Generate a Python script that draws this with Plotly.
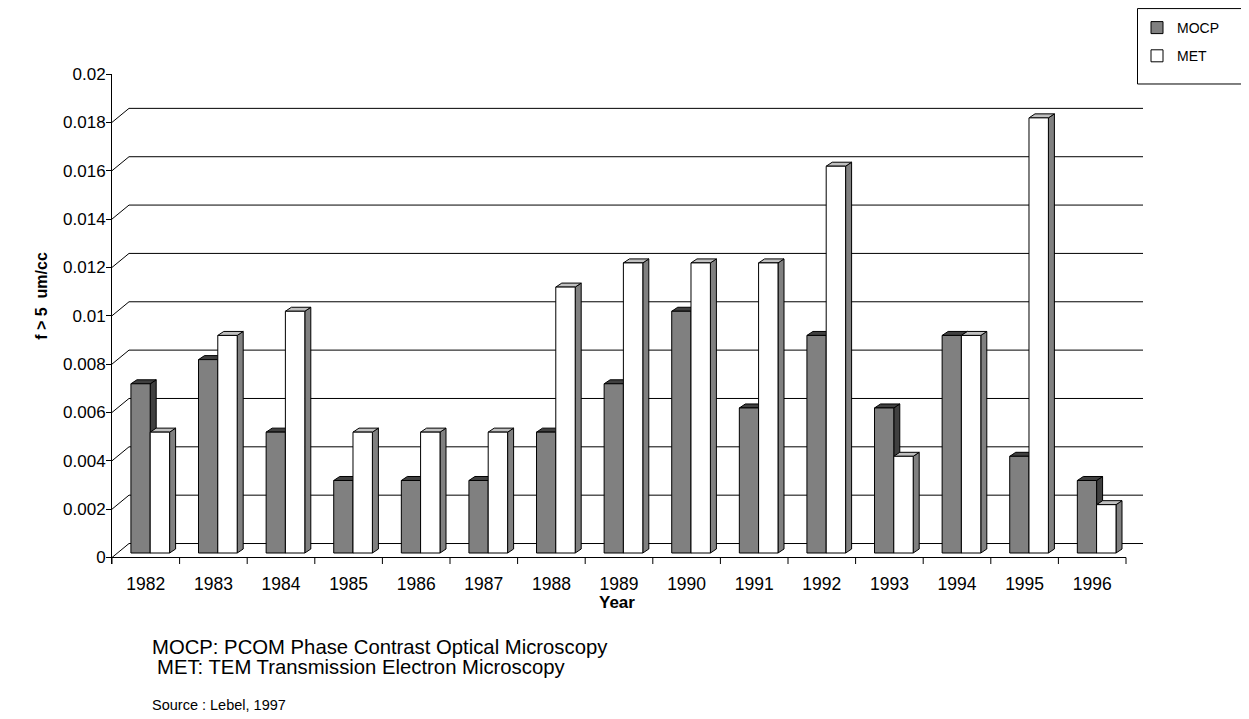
import plotly.graph_objects as go

# ---------------- data ----------------
years = ["1982", "1983", "1984", "1985", "1986", "1987", "1988", "1989",
         "1990", "1991", "1992", "1993", "1994", "1995", "1996"]
mocp = [0.007, 0.008, 0.005, 0.003, 0.003, 0.003, 0.005, 0.007,
        0.010, 0.006, 0.009, 0.006, 0.009, 0.004, 0.003]
met = [0.005, 0.009, 0.010, 0.005, 0.005, 0.005, 0.011, 0.012,
       0.012, 0.012, 0.016, 0.004, 0.009, 0.018, 0.002]
y_ticks = [0, 0.002, 0.004, 0.006, 0.008, 0.010, 0.012, 0.014, 0.016, 0.018, 0.020]
y_tick_labels = ["0", "0.002", "0.004", "0.006", "0.008", "0.01",
                 "0.012", "0.014", "0.016", "0.018", "0.02"]
series_names = ["MOCP", "MET"]

# ---------------- layout geometry (page pixels) ----------------
PAGE_W, PAGE_H = 1249, 719
OFF = 8                       # default body margin of the html page
W, H = PAGE_W - OFF, PAGE_H - OFF

REF_L = 112                   # front y axis
REF_Y0 = 558                  # value 0 on the front plane
TICK_DOWN = 6.5               # category ticks below the floor
CAT_PX = 67.6                 # width of one category
SCALE = 24200.0               # pixels per data unit
WALL_DX_PX, WALL_DY_PX = 17, 14
BAR_DX_PX, BAR_DY_PX = 6, 4
BAR_LIFT_PX = 4.5

n = len(years)
XMAX = n + WALL_DX_PX / CAT_PX
Y_TOP = 0.020
Y_MIN = -TICK_DOWN / SCALE

PX_L = REF_L - OFF
PX_R = PX_L + XMAX * CAT_PX
PX_T = REF_Y0 - Y_TOP * SCALE - OFF
PX_B = REF_Y0 + TICK_DOWN - OFF

GDX = WALL_DX_PX / CAT_PX
GDY = WALL_DY_PX / SCALE
BDX = BAR_DX_PX / CAT_PX
BDY = BAR_DY_PX / SCALE
BY = BAR_LIFT_PX / SCALE
MOCP_X0, MOCP_X1 = 0.28, 0.565
MET_X0, MET_X1 = 0.565, 0.852


def paper_x(page_px):
    return (page_px - OFF - PX_L) / (PX_R - PX_L)


def paper_y(page_py):
    return (PX_B - (page_py - OFF)) / (PX_B - PX_T)


FONT = "Liberation Sans, Arial, sans-serif"

fig = go.Figure()

# back-wall gridlines with their diagonal links to the front axis
gx, gy = [], []
for v in y_ticks[:-1]:
    gx += [0, GDX, n + GDX, None]
    gy += [v, v + GDY, v + GDY, None]
fig.add_trace(go.Scatter(x=gx, y=gy, mode="lines", line=dict(color="black", width=1),
                         hoverinfo="skip", showlegend=False))

# front x-axis line and category boundary ticks
ax_x = [0, n, None]
ax_y = [0, 0, None]
for k in range(n + 1):
    ax_x += [k, k, None]
    ax_y += [0, Y_MIN, None]
fig.add_trace(go.Scatter(x=ax_x, y=ax_y, mode="lines", line=dict(color="black", width=1),
                         hoverinfo="skip", showlegend=False))


def faces(values, x0, x1):
    fx, fy, tx, ty, sx, sy = [], [], [], [], [], []
    for i, v in enumerate(values):
        a, b = i + x0, i + x1
        yb, yt = BY, BY + v
        fx += [a, b, b, a, a, None]
        fy += [yb, yb, yt, yt, yb, None]
        tx += [a, b, b + BDX, a + BDX, a, None]
        ty += [yt, yt, yt + BDY, yt + BDY, yt, None]
        sx += [b, b + BDX, b + BDX, b, b, None]
        sy += [yb, yb + BDY, yt + BDY, yt, yb, None]
    return (fx, fy), (tx, ty), (sx, sy)


def add_bars(values, x0, x1, front_c, top_c, side_c, name):
    front, top, side = faces(values, x0, x1)
    for (xs, ys), col in ((side, side_c), (top, top_c), (front, front_c)):
        fig.add_trace(go.Scatter(x=xs, y=ys, mode="lines", fill="toself", fillcolor=col,
                                 line=dict(color="black", width=1), name=name,
                                 hoverinfo="skip", showlegend=False))


add_bars(mocp, MOCP_X0, MOCP_X1, "#808080", "#404040", "#404040", series_names[0])
add_bars(met, MET_X0, MET_X1, "#ffffff", "#c0c0c0", "#808080", series_names[1])

# legend entries
fig.add_trace(go.Bar(x=[None], y=[None], name=series_names[0], legendgroup="a",
                     marker=dict(color="#808080", line=dict(color="black", width=1))))
fig.add_trace(go.Bar(x=[None], y=[None], name=series_names[1], legendgroup="b",
                     marker=dict(color="#ffffff", line=dict(color="black", width=1))))

annotations = [
    dict(text="<b>f > 5 \u00a0um/cc</b>", x=paper_x(42), y=paper_y(296), textangle=-90,
         font=dict(size=16, family=FONT, color="black")),
    dict(text="<b>Year</b>", x=paper_x(617), y=paper_y(603),
         font=dict(size=17, family=FONT, color="black")),
    dict(text="MOCP: PCOM Phase Contrast Optical Microscopy", x=paper_x(150), y=paper_y(648),
         xanchor="left", font=dict(size=20.3, family=FONT, color="black")),
    dict(text="MET: TEM Transmission Electron Microscopy", x=paper_x(155), y=paper_y(668),
         xanchor="left", font=dict(size=20.3, family=FONT, color="black")),
    dict(text="Source : Lebel, 1997", x=paper_x(150), y=paper_y(706),
         xanchor="left", font=dict(size=14.5, family=FONT, color="black")),
]
for a in annotations:
    a.update(xref="paper", yref="paper", showarrow=False)
    a.setdefault("xanchor", "center")
    a.setdefault("yanchor", "middle")

# frame around the legend
legend_frame = dict(type="rect", xref="paper", yref="paper",
                    x0=paper_x(1137.5), x1=paper_x(1248), y0=paper_y(84), y1=paper_y(8.5),
                    line=dict(color="black", width=1), fillcolor="rgba(0,0,0,0)", layer="above")

fig.update_layout(
    width=W, height=H,
    margin=dict(l=PX_L, r=W - PX_R, t=PX_T, b=H - PX_B, pad=0, autoexpand=False),
    paper_bgcolor="white", plot_bgcolor="white",
    font=dict(family=FONT, color="black"),
    annotations=annotations,
    shapes=[legend_frame],
    showlegend=True,
    legend=dict(xref="container", yref="container", x=(1137 - OFF) / W, y=1.0 - 4.0 / H,
                xanchor="left", yanchor="top",
                bgcolor="rgba(0,0,0,0)", borderwidth=0,
                font=dict(size=14, family=FONT, color="black"),
                tracegroupgap=7, itemwidth=30),
    xaxis=dict(range=[0, XMAX], tickvals=[i + 0.5 for i in range(n)], ticktext=years,
               ticks="", showgrid=False, zeroline=False, showline=False, automargin=False,
               ticklabelstandoff=7,
               tickfont=dict(size=17.5, family=FONT, color="black")),
    yaxis=dict(range=[Y_MIN, Y_TOP], tickvals=y_ticks, ticktext=y_tick_labels,
               ticks="outside", ticklen=5, tickcolor="black", showline=True,
               linecolor="black", linewidth=1, showgrid=False, zeroline=False,
               automargin=False, ticklabelstandoff=-3,
               tickfont=dict(size=17, family=FONT, color="black")),
)

fig.write_html("out.html")
